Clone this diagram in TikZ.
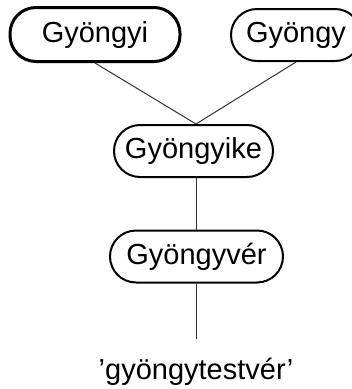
\documentclass[tikz,border=0pt]{standalone}
\usepackage{fontspec}
\setmainfont{Liberation Sans}
\begin{document}
\begin{tikzpicture}[x=1pt,y=-1pt,
  word/.style={draw=black,rectangle,rounded corners=26pt,inner sep=0pt,
    font=\fontsize{29}{34}\selectfont,text=black,minimum height=52pt},
  link/.style={draw=black!80,line width=1pt}]
\useasboundingbox (0,0) rectangle (352,389);
\clip (0,0) rectangle (352,389);
\node[word,line width=3pt,minimum width=170pt,minimum height=54pt] (gyi) at (95,34.5) {Gyöngyi};
\node[word,line width=2pt,minimum width=130pt] (gy) at (296,35) {Gyöngy};
\node[word,line width=2pt,minimum width=159pt] (gyike) at (193.5,151) {Gyöngyike};
\node[word,line width=2pt,minimum width=173pt] (gyver) at (196.5,256.5) {Gyöngyvér};
\coordinate (end) at (196,339);
\node[font=\fontsize{29}{34}\selectfont,inner sep=0pt] (gloss) at (196,372) {’gyöngytestvér’};
\draw[link] (gyi.south) -- (gyike.north -| end);
\draw[link] (gy.south) -- (gyike.north -| end);
\draw[link] (gyike.south -| end) -- (gyver.north -| end);
\draw[link] (gyver.south -| end) -- (end);
\end{tikzpicture}
\end{document}
